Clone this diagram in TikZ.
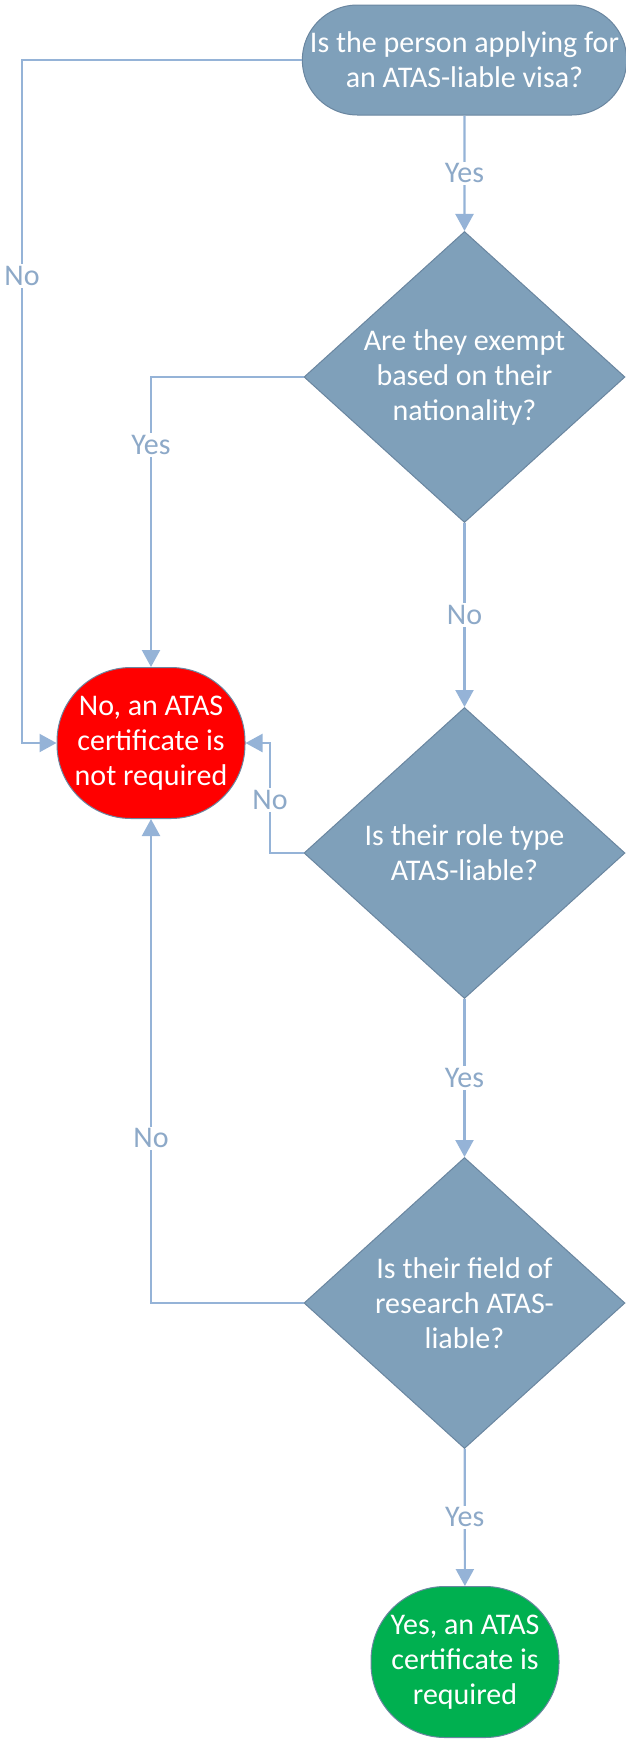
\documentclass[tikz,border=0pt]{standalone}
\usepackage{fontspec}
\setmainfont{Carlito}
\usetikzlibrary{shapes.geometric,shapes.misc,arrows.meta}
\definecolor{qfill}{RGB}{127,160,186}
\definecolor{qline}{RGB}{106,134,160}
\definecolor{linkblue}{RGB}{149,179,215}
\definecolor{lbltext}{RGB}{141,169,200}
\definecolor{nored}{RGB}{255,0,0}
\definecolor{yesgreen}{RGB}{0,176,80}
\def\boxfont{\fontsize{30}{35}\selectfont}
\tikzset{
	question/.style={diamond,draw=qline,fill=qfill,line width=1pt,text=white,align=center,
		inner sep=0pt,aspect=1.1,minimum width=321pt,minimum height=291pt,font=\boxfont},
	terminal/.style={rectangle,draw=qline,line width=1pt,text=white,align=center,
		rounded corners=74pt,minimum width=188pt,minimum height=151pt,font=\boxfont},
	link/.style={draw=linkblue,line width=2.2pt,-{Triangle[width=18pt,length=17pt]}},
	lbl/.style={fill=white,text=lbltext,inner sep=2pt,font=\boxfont}
}
\begin{document}
\begin{tikzpicture}[x=1pt,y=-1pt]
	\useasboundingbox (0,0) rectangle (625,1740);
	% boxes
	\node[rounded rectangle,draw=qline,fill=qfill,line width=1pt,text=white,align=center,
		minimum width=321pt,minimum height=110pt,inner sep=0pt,font=\boxfont]
		(visa) at (464.5,60) {Is the person applying for\\an ATAS-liable visa?};
	\node[question] (nation) at (464.5,377) {Are they exempt\\based on their\\nationality?};
	\node[question] (role) at (464.5,853) {Is their role type\\ATAS-liable?};
	\node[question] (field) at (464.5,1303) {Is their field of\\research ATAS-\\liable?};
	\node[terminal,fill=nored] (notreq) at (151,743) {No, an ATAS\\certificate is\\not required};
	\node[terminal,fill=yesgreen] (req) at (465,1662) {Yes, an ATAS\\certificate is\\required};
	% bends
	\coordinate (visabend) at (22,743);
	\coordinate (rolebend) at (270,800);
	% links
	\draw[link] (visa) -- node[lbl] {Yes} (nation);
	\draw[link] (nation) -- node[lbl] {No} (role);
	\draw[link] (role) -- node[lbl] {Yes} (field);
	\draw[link] (field) -- node[lbl] {Yes} (req);
	\draw[link] (visa.west) -| node[lbl,pos=0.658] {No} (visabend) -- (notreq.west);
	\draw[link] (nation.west) -| node[lbl,pos=0.617] {Yes} (notreq.north);
	\draw[link] (role.west) -| (rolebend) node[lbl] {No} |- (notreq.east);
	\draw[link] (field.west) -| node[lbl,pos=0.67] {No} (notreq.south);
\end{tikzpicture}
\end{document}
